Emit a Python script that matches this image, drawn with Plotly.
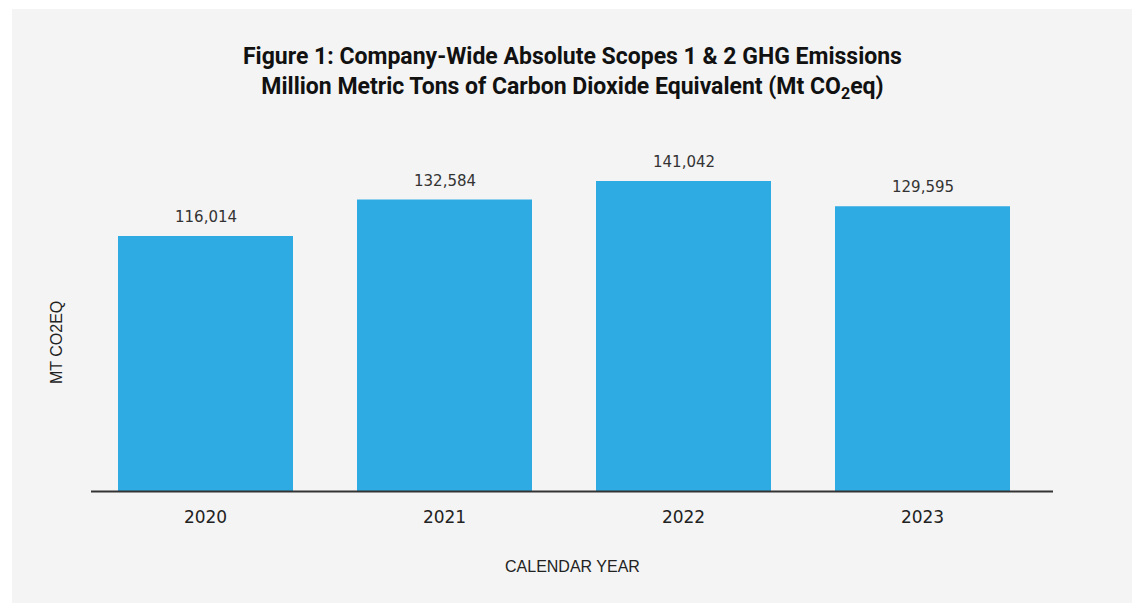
import plotly.graph_objects as go

years = ["2020", "2021", "2022", "2023"]
emissions = [116014, 132584, 141042, 129595]
value_labels = ["116,014", "132,584", "141,042", "129,595"]

W, H = 1137, 603
L, R, T, B = 86, 95, 140, 112
pw, ph = W - L - R, H - T - B

def px_x(p):
    return (p - L) / pw

def px_y(p):
    return (H - B - p) / ph

fig = go.Figure()
fig.add_trace(go.Bar(
    x=years, y=emissions,
    marker=dict(color="#2EABE3", line=dict(width=0)),
    hoverinfo="skip",
))

annotations = []
for i, (v, lab) in enumerate(zip(emissions, value_labels)):
    annotations.append(dict(
        x=i, y=v, xref="x", yref="y", text=lab, showarrow=False,
        xanchor="center", yanchor="bottom", yshift=8,
        font=dict(family="DejaVu Sans", size=15, color="#333333"),
    ))

annotations.append(dict(
    xref="paper", yref="paper", x=px_x(572), y=px_y(72.5),
    text="<b>Figure 1: Company-Wide Absolute Scopes 1 &amp; 2 GHG Emissions</b><br>"
         "<b>Million Metric Tons of Carbon Dioxide Equivalent (Mt CO<sub>2</sub>eq)</b>",
    showarrow=False, xanchor="center", yanchor="middle", align="center",
    font=dict(family="Roboto", size=23, color="#111111"),
))
annotations.append(dict(
    xref="paper", yref="paper", x=px_x(572), y=px_y(566),
    text="CALENDAR YEAR", showarrow=False, xanchor="center", yanchor="middle",
    font=dict(family="Liberation Sans", size=16, color="#222222"),
))
annotations.append(dict(
    xref="paper", yref="paper", x=px_x(56), y=px_y(343),
    text="MT CO2EQ", showarrow=False, xanchor="center", yanchor="middle",
    textangle=-90,
    font=dict(family="Liberation Sans", size=16, color="#222222"),
))

shapes = [
    dict(type="rect", xref="paper", yref="paper", layer="below",
         x0=px_x(12), x1=px_x(1132), y0=px_y(610), y1=px_y(9),
         fillcolor="#F4F4F4", line=dict(width=0)),
    dict(type="line", xref="paper", yref="paper", layer="above",
         x0=px_x(91), x1=px_x(1053), y0=px_y(491.5), y1=px_y(491.5),
         line=dict(color="#333333", width=2)),
]

fig.update_layout(
    width=W, height=H,
    margin=dict(l=L, r=R, t=T, b=B, pad=0),
    paper_bgcolor="#FFFFFF",
    plot_bgcolor="rgba(0,0,0,0)",
    showlegend=False,
    bargap=1 - 175 / 239,
    annotations=annotations,
    shapes=shapes,
    xaxis=dict(
        type="category",
        showgrid=False, zeroline=False, showline=False,
        ticks="outside", ticklen=11, tickcolor="rgba(0,0,0,0)",
        tickfont=dict(family="DejaVu Sans", size=17, color="#222222"),
        range=[-0.5, 3.5],
    ),
    yaxis=dict(
        showgrid=False, zeroline=False, showline=False,
        showticklabels=False, ticks="",
        range=[0, 159700],
    ),
)

fig.write_html("out.html")
